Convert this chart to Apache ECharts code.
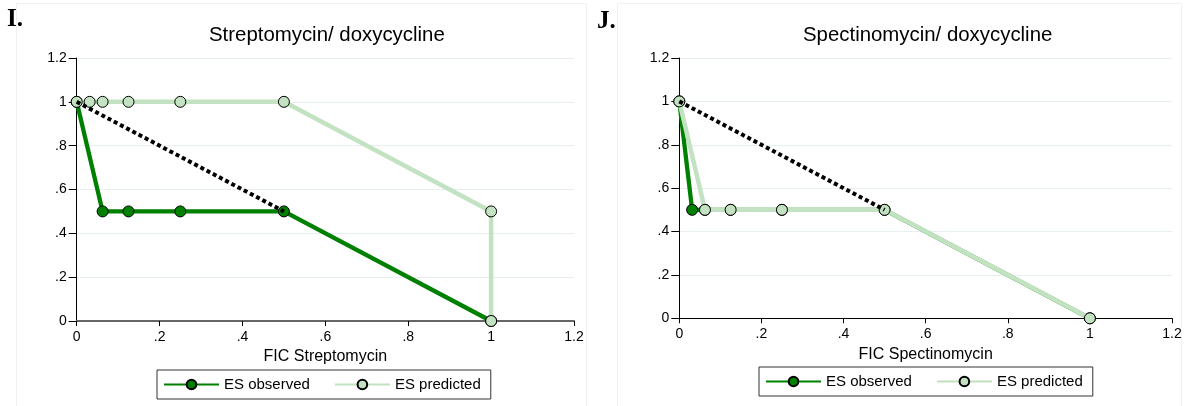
<!DOCTYPE html>
<html>
<head>
<meta charset="utf-8">
<script src="https://cdn.jsdelivr.net/npm/echarts@6/dist/echarts.min.js"></script>
<style>
html,body{margin:0;padding:0;background:#fff;}
#c{width:1186px;height:406px;}
</style>
</head>
<body>
<div id="c"></div>
<script>
// ---- data ----
const tickLabels = ['0', '.2', '.4', '.6', '.8', '1', '1.2'];
const seriesNames = ['ES observed', 'ES predicted'];

const strepObsX  = [0, 0.0625, 0.125, 0.25, 0.5, 1];
const strepObsY  = [1, 0.5, 0.5, 0.5, 0.5, 0];
const strepPredX = [0, 0.03125, 0.0625, 0.125, 0.25, 0.5, 1, 1];
const strepPredY = [1, 1, 1, 1, 1, 1, 0.5, 0];

const spectObsX  = [0, 0.03125, 0.0625, 0.125, 0.25, 0.5, 1];
const spectObsY  = [1, 0.5, 0.5, 0.5, 0.5, 0.5, 0];
const spectPredX = [0, 0.0625, 0.125, 0.25, 0.5, 1];
const spectPredY = [1, 0.5, 0.5, 0.5, 0.5, 0];

const addX = [0, 0.5];
const addY = [1, 0.5];

const zip = (xs, ys) => xs.map((x, i) => [x, ys[i]]);

// ---- styles ----
const DARK = '#008000';
const LIGHT = '#c2e2c2';
const FONT = '"Liberation Sans", Arial, sans-serif';

function xAxis(gi, name, lineColor, lineW, gap) {
  return {
    type: 'value', gridIndex: gi, min: 0, max: 1.2, interval: 0.2,
    name: name, nameLocation: 'middle', nameGap: gap,
    nameTextStyle: { color: '#000', fontSize: 16, fontFamily: FONT },
    axisLine: { show: true, onZero: false, lineStyle: { color: lineColor, width: lineW } },
    axisTick: { show: true, length: 5, lineStyle: { color: '#000' } },
    axisLabel: { color: '#000', fontSize: 14, fontFamily: FONT, margin: 9,
      formatter: (v, i) => tickLabels[i] },
    splitLine: { show: false }
  };
}
function yAxis(gi) {
  return {
    type: 'value', gridIndex: gi, min: 0, max: 1.2, interval: 0.2,
    axisLine: { show: true, lineStyle: { color: '#000', width: 1 } },
    axisTick: { show: true, length: 8, lineStyle: { color: '#000' } },
    axisLabel: { color: '#000', fontSize: 14, fontFamily: FONT, margin: 10,
      formatter: (v, i) => tickLabels[i] },
    splitLine: { show: true, lineStyle: { color: '#e7eff1', width: 1 } }
  };
}
function obs(gi, xs, ys) {
  return {
    name: seriesNames[0], type: 'line', xAxisIndex: gi, yAxisIndex: gi,
    data: zip(xs, ys), symbol: 'circle', symbolSize: 11, showSymbol: true,
    lineStyle: { color: DARK, width: 4.3 },
    itemStyle: { color: DARK, borderColor: '#000', borderWidth: 1 },
    z: 2, animation: false
  };
}
function pred(gi, xs, ys) {
  return {
    name: seriesNames[1], type: 'line', xAxisIndex: gi, yAxisIndex: gi,
    data: zip(xs, ys), symbol: 'circle', symbolSize: 11, showSymbol: true,
    lineStyle: { color: LIGHT, width: 4.5 },
    itemStyle: { color: LIGHT, borderColor: '#000', borderWidth: 1 },
    z: 3, animation: false
  };
}
function additive(gi) {
  return {
    name: 'additive', type: 'line', xAxisIndex: gi, yAxisIndex: gi,
    data: zip(addX, addY), symbol: 'none',
    lineStyle: { color: '#000', width: 4, type: [4, 3] },
    z: 4, animation: false
  };
}
function legend(left, top) {
  return {
    left: left, top: top, orient: 'horizontal',
    data: seriesNames,
    itemWidth: 55, itemHeight: 12, itemGap: 24,
    padding: [7, 10, 7, 6],
    borderColor: '#333', borderWidth: 1,
    textStyle: { color: '#000', fontSize: 15, fontFamily: FONT },
    selectedMode: false
  };
}

const chart = echarts.init(document.getElementById('c'), null, { renderer: 'canvas' });
chart.setOption({
  backgroundColor: '#fff',
  animation: false,
  title: [
    { text: 'Streptomycin/ doxycycline', left: 204, top: 20,
      textStyle: { color: '#000', fontSize: 20.4, fontWeight: 'normal', fontFamily: FONT } },
    { text: 'Spectinomycin/ doxycycline', left: 798, top: 20,
      textStyle: { color: '#000', fontSize: 20.4, fontWeight: 'normal', fontFamily: FONT } }
  ],
  graphic: [
    { type: 'rect', shape: { x: 16.5, y: 3.5, width: 570, height: 420 },
      style: { fill: null, stroke: '#eef2f3', lineWidth: 1 }, silent: true, z: -1 },
    { type: 'rect', shape: { x: 617.5, y: 3.5, width: 564, height: 420 },
      style: { fill: null, stroke: '#eef2f3', lineWidth: 1 }, silent: true, z: -1 },
    { type: 'text', left: 7, top: 7,
      style: { text: 'I.', fill: '#000', font: 'bold 25px "Liberation Serif", "Times New Roman", serif' } },
    { type: 'text', left: 597, top: 9,
      style: { text: 'J.', fill: '#000', font: 'bold 25px "Liberation Serif", "Times New Roman", serif' } }
  ],
  legend: [legend(157, 370), legend(759, 367)],
  grid: [
    { left: 76.7, top: 58, width: 497.3, height: 263, containLabel: false },
    { left: 679.3, top: 58, width: 492.7, height: 260.3, containLabel: false }
  ],
  xAxis: [xAxis(0, 'FIC Streptomycin', '#666', 2, 23), xAxis(1, 'FIC Spectinomycin', '#000', 1, 24)],
  yAxis: [yAxis(0), yAxis(1)],
  series: [
    obs(0, strepObsX, strepObsY),
    pred(0, strepPredX, strepPredY),
    additive(0),
    obs(1, spectObsX, spectObsY),
    pred(1, spectPredX, spectPredY),
    additive(1)
  ]
});
</script>
</body>
</html>
